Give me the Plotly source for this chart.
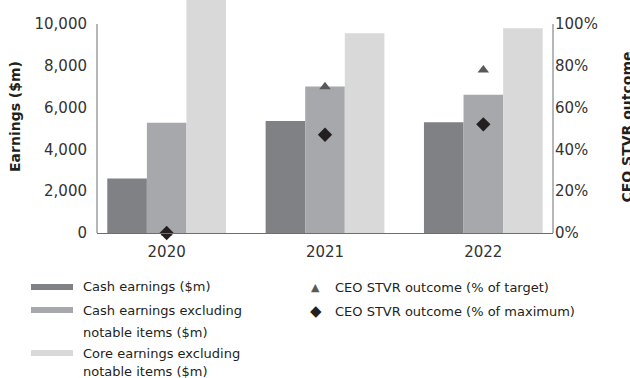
import plotly.graph_objects as go

# ---- data ----
years = ["2020", "2021", "2022"]
cash_earnings = [2610, 5360, 5300]
cash_excl_notable = [5270, 7005, 6620]
core_excl_notable = [11300, 9560, 9800]
stvr_pct_target = [0, 70, 78]
stvr_pct_maximum = [0, 47, 52]

left_ticks = [0, 2000, 4000, 6000, 8000, 10000]
right_ticks = [0, 20, 40, 60, 80, 100]
right_tick_text = [f"{v}%" for v in right_ticks]

bar_names = [
    ["Cash earnings ($m)"],
    ["Cash earnings excluding", "notable items ($m)"],
    ["Core earnings excluding", "notable items ($m)"],
]
marker_names = ["CEO STVR outcome (% of target)", "CEO STVR outcome (% of maximum)"]

# ---- styling ----
W, H = 630, 378
ML, MR, MT, MB = 97, 77, 0, 145
PW, PH = W - ML - MR, H - MT - MB
C_DARK, C_MID, C_LIGHT = "#808184", "#a7a8ab", "#d9d9d9"
C_TRI, C_DIA = "#58595b", "#231f20"
AXIS_C = "#6d6e71"
TXT = "#231f20"
TICK_C = "#333333"
FONT = "DejaVu Sans"

Y_TOP = max(left_ticks) * PH / 209.0  # value at the top edge of the plot area
Y2_TOP = max(right_ticks) * PH / 209.0


def xp(px):
    return (px - ML) / PW


def yp(py):
    return (H - MB - py) / PH


fig = go.Figure()
for vals, col in zip([cash_earnings, cash_excl_notable, core_excl_notable], [C_DARK, C_MID, C_LIGHT]):
    fig.add_trace(go.Bar(x=years, y=vals, marker=dict(color=col, line=dict(width=0)),
                         showlegend=False, yaxis="y"))

fig.add_trace(go.Scatter(x=years, y=stvr_pct_target, mode="markers", yaxis="y2",
                         marker=dict(symbol="triangle-up", size=10, color=C_TRI),
                         cliponaxis=False, showlegend=False))
fig.add_trace(go.Scatter(x=years, y=stvr_pct_maximum, mode="markers", yaxis="y2",
                         marker=dict(symbol="diamond", size=11, color=C_DIA),
                         cliponaxis=False, showlegend=False))

# axis lines that stop at the top tick
shapes = [
    dict(type="line", xref="paper", yref="y", x0=0, x1=0, y0=0, y1=max(left_ticks),
         line=dict(color=AXIS_C, width=1)),
    dict(type="line", xref="paper", yref="y2", x0=1, x1=1, y0=0, y1=max(right_ticks),
         line=dict(color=AXIS_C, width=1)),
]

annotations = [
    # right axis title, running off the edge of the page
    dict(text="<b>CEO STVR outcome</b>", xref="paper", yref="paper", x=xp(626.5), y=yp(127),
         xanchor="center", yanchor="middle", textangle=-90, showarrow=False,
         font=dict(family=FONT, size=14, color=TXT)),
]

# legend drawn below the plot
swatch_rows = [287, 310, 353]
for (lines, col, row) in zip(bar_names, [C_DARK, C_MID, C_LIGHT], swatch_rows):
    shapes.append(dict(type="rect", xref="paper", yref="paper",
                       x0=xp(31), x1=xp(73), y0=yp(row - 3), y1=yp(row + 3),
                       fillcolor=col, line=dict(width=0)))
text_rows = [[286], [310, 332], [353, 372]]
for lines, rows in zip(bar_names, text_rows):
    for line, r in zip(lines, rows):
        annotations.append(dict(text=line, xref="paper", yref="paper", x=xp(81), y=yp(r),
                                xanchor="left", yanchor="middle", showarrow=False,
                                font=dict(family=FONT, size=13, color=TXT)))

for sym, size, col, row, name in [("▲", 11, C_TRI, 287, marker_names[0]),
                                  ("◆", 15, C_DIA, 311, marker_names[1])]:
    annotations.append(dict(text=sym, xref="paper", yref="paper", x=xp(315.5), y=yp(row),
                            xanchor="center", yanchor="middle", showarrow=False,
                            font=dict(family=FONT, size=size, color=col)))
    annotations.append(dict(text=name, xref="paper", yref="paper", x=xp(333), y=yp(row),
                            xanchor="left", yanchor="middle", showarrow=False,
                            font=dict(family=FONT, size=13, color=TXT)))

fig.update_layout(
    width=W, height=H,
    margin=dict(l=ML, r=MR, t=MT, b=MB),
    paper_bgcolor="white", plot_bgcolor="white",
    barmode="group", bargap=0.25, bargroupgap=0,
    font=dict(family=FONT, size=15, color=TXT),
    xaxis=dict(type="category", range=[-0.44, 2.44], showline=True, linecolor=AXIS_C,
               linewidth=1, showgrid=False, ticks="", ticklabelstandoff=5,
               tickfont=dict(size=15, color=TICK_C)),
    yaxis=dict(range=[0, Y_TOP], tickvals=left_ticks, tickformat=",", showgrid=False,
               zeroline=False, showline=False, ticks="", ticklabelstandoff=9,
               tickfont=dict(size=15, color=TICK_C),
               title=dict(text="<b>Earnings ($m)</b>", font=dict(size=14, color=TXT), standoff=10)),
    yaxis2=dict(range=[0, Y2_TOP], tickvals=right_ticks, ticktext=right_tick_text, overlaying="y",
                side="right", showgrid=False, zeroline=False, showline=False, ticks="",
                ticklabelstandoff=1, tickfont=dict(size=15, color=TICK_C)),
    shapes=shapes,
    annotations=annotations,
)

fig.write_html("out.html")
